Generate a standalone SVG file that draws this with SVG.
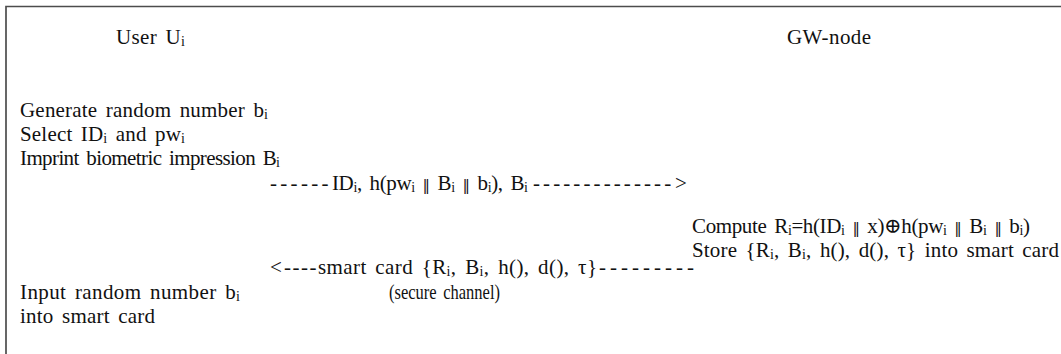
<svg xmlns="http://www.w3.org/2000/svg" width="1061" height="354" viewBox="0 0 1061 354">
  <style>
    text { font-family: "Liberation Serif", "Times New Roman", "DejaVu Serif", serif; font-size: 21px; fill: #111; word-spacing: 3px; }
    .s { font-size: 14px; baseline-shift: -2px; }
    .bar { font-family: "DejaVu Serif", serif; font-size: 15px; }
    .d { letter-spacing: 3.3px; }
    .frame { fill: none; stroke: #4d4d4d; stroke-width: 1.7; }
  </style>

  <rect width="1061" height="354" fill="#ffffff"/>
  <!-- open frame: top and left rules only -->
  <path class="frame" d="M6,354 V6.5 H1061"/>

  <!-- user side -->
  <g id="user">
    <text x="116" y="44" textLength="69" lengthAdjust="spacing">User U<tspan class="s">i</tspan></text>
    <text x="20" y="117" textLength="248" lengthAdjust="spacing">Generate random number b<tspan class="s">i</tspan></text>
    <text x="20" y="141" textLength="165" lengthAdjust="spacing">Select ID<tspan class="s">i</tspan> and pw<tspan class="s">i</tspan></text>
    <text x="20" y="165" textLength="260" lengthAdjust="spacing">Imprint biometric impression B<tspan class="s">i</tspan></text>
    <text x="20" y="299" textLength="220" lengthAdjust="spacing">Input random number b<tspan class="s">i</tspan></text>
    <text x="20" y="323" textLength="135" lengthAdjust="spacing">into smart card</text>
  </g>

  <!-- gateway side -->
  <g id="gateway">
    <text x="787" y="44" textLength="84" lengthAdjust="spacing">GW-node</text>
    <text x="692" y="233" textLength="338" lengthAdjust="spacing">Compute R<tspan class="s">i</tspan>=h(ID<tspan class="s">i</tspan> <tspan class="bar">‖</tspan> x)⊕h(pw<tspan class="s">i</tspan> <tspan class="bar">‖</tspan> B<tspan class="s">i</tspan> <tspan class="bar">‖</tspan> b<tspan class="s">i</tspan>)</text>
    <text x="692" y="257" textLength="367" lengthAdjust="spacing">Store {R<tspan class="s">i</tspan>, B<tspan class="s">i</tspan>, h(), d(), τ} into smart card</text>
  </g>

  <!-- messages drawn as dashed text arrows -->
  <g id="connectors">
    <text id="msg-register" y="190"><tspan x="270" class="d">------</tspan><tspan x="332" textLength="196" lengthAdjust="spacing">ID<tspan class="s">i</tspan>, h(pw<tspan class="s">i</tspan> <tspan class="bar">‖</tspan> B<tspan class="s">i</tspan> <tspan class="bar">‖</tspan> b<tspan class="s">i</tspan>), B<tspan class="s">i</tspan></tspan><tspan x="533" class="d" style="letter-spacing:3.1px">--------------</tspan><tspan x="675">&gt;</tspan></text>
    <text id="msg-card" y="274"><tspan x="270">&lt;</tspan><tspan x="284" class="d" style="letter-spacing:1.5px">----</tspan><tspan x="318" textLength="279" lengthAdjust="spacing">smart card {R<tspan class="s">i</tspan>, B<tspan class="s">i</tspan>, h(), d(), τ}</tspan><tspan x="599" class="d" style="letter-spacing:4px">---------</tspan></text>
    <text x="389" y="299" textLength="111" lengthAdjust="spacingAndGlyphs">(secure channel)</text>
  </g>
</svg>
